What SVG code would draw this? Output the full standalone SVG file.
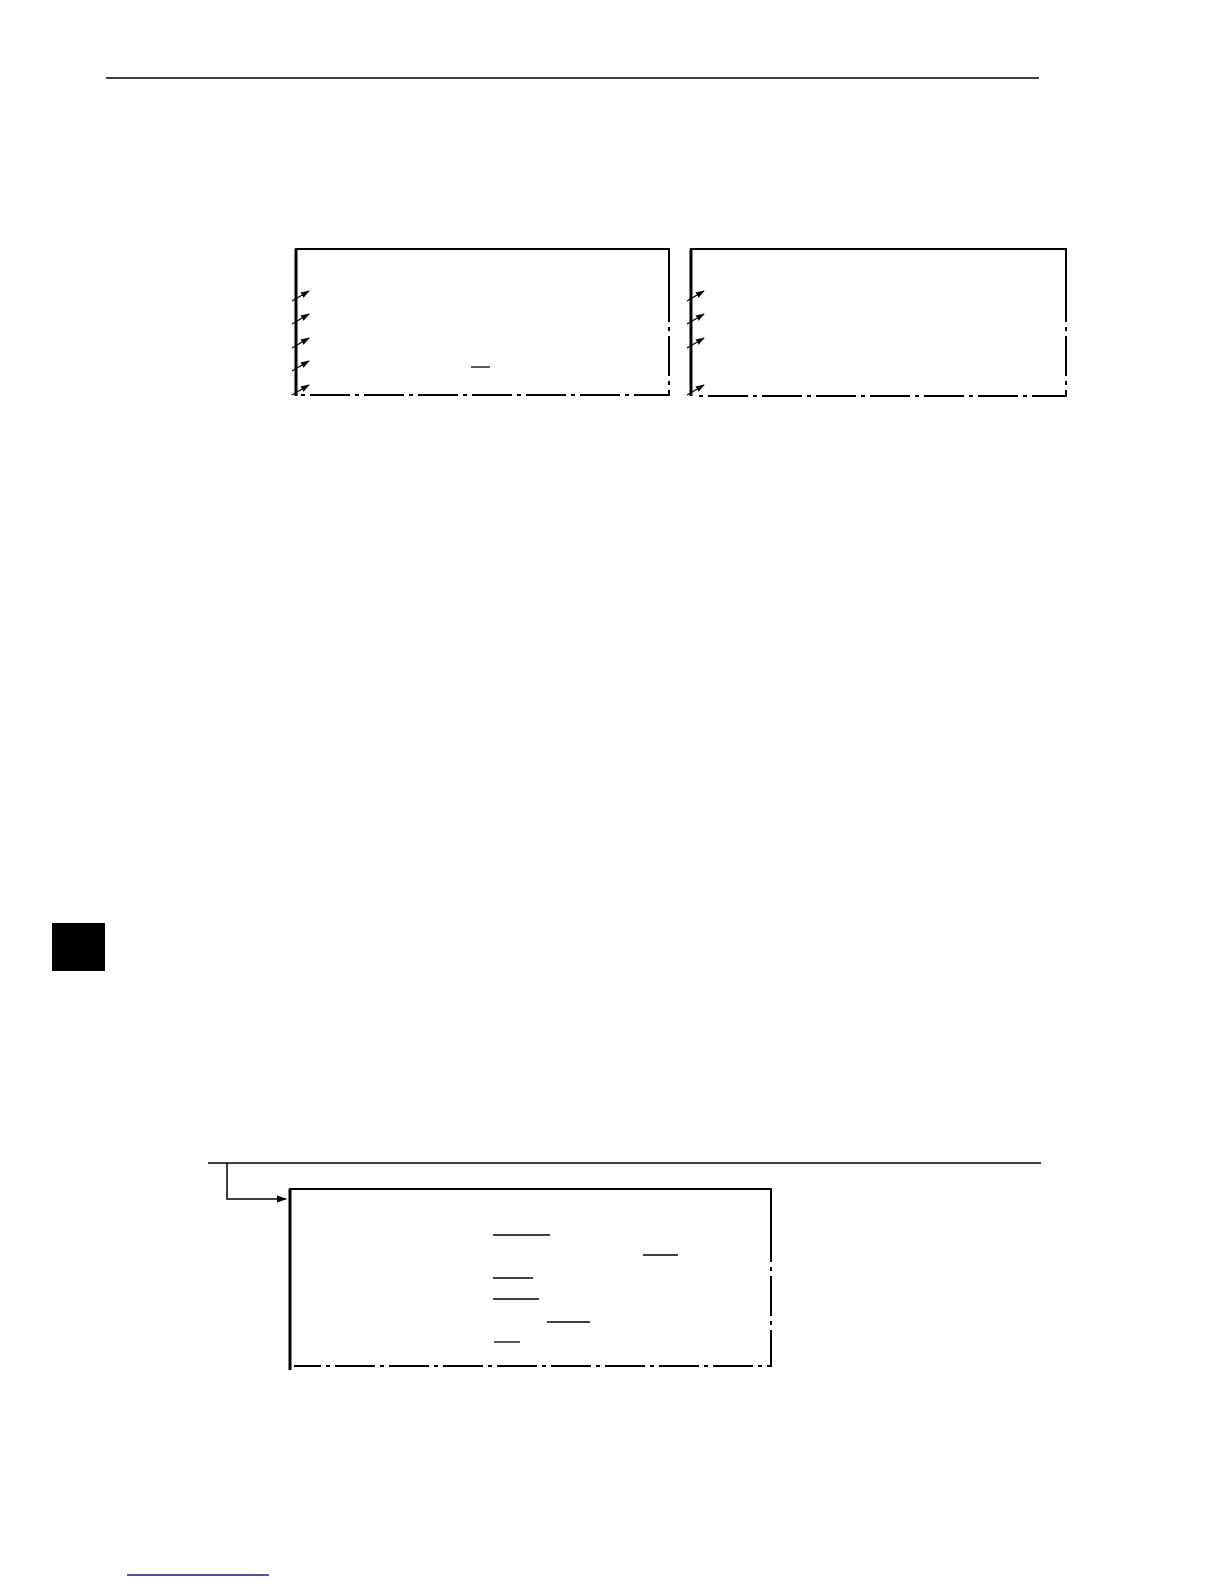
<svg xmlns="http://www.w3.org/2000/svg" width="1224" height="1584" viewBox="0 0 1224 1584">
<style>
.solid{fill:none;stroke:#000;stroke-width:2}
.thick{fill:none;stroke:#000;stroke-width:3}
.dash{fill:none;stroke:#000;stroke-width:2;stroke-dasharray:40 5 4 5}
.thin{fill:none;stroke:#000;stroke-width:1.5}
.ptr{fill:none;stroke:#000;stroke-width:1.3}
</style>
<defs>
<marker id="ah" viewBox="0 0 10 10" refX="9" refY="5" markerWidth="9" markerHeight="9" orient="auto" markerUnits="userSpaceOnUse">
<path d="M0,1.5 L10,5 L0,8.5 Z" fill="#000"/>
</marker>
<marker id="ah2" viewBox="0 0 10 10" refX="9" refY="5" markerWidth="10" markerHeight="10" orient="auto" markerUnits="userSpaceOnUse">
<path d="M0,1.5 L10,5 L0,8.5 Z" fill="#000"/>
</marker>
</defs>
<rect width="1224" height="1584" fill="#fff"/>
<line x1="106" y1="78" x2="1039" y2="78" class="thin"/>
<g id="box1">
<path d="M296,396 V249 H669 V282" class="solid"/>
<line x1="296" y1="249" x2="296" y2="396" class="thick"/>
<path d="M669,282 V395 H300" class="dash"/>
<line x1="471" y1="367" x2="490" y2="367" stroke="#000" stroke-width="1.3"/>
</g>
<g id="box2">
<path d="M691,396 V249 H1066 V282" class="solid"/>
<line x1="691" y1="249" x2="691" y2="396" class="thick"/>
<path d="M1066,282 V396 H696" class="dash"/>
</g>
<g id="box3">
<path d="M290,1370 V1189 H771 V1222" class="solid"/>
<line x1="290" y1="1189" x2="290" y2="1370" class="thick"/>
<path d="M771,1222 V1366 H294" class="dash"/>
<g stroke="#000" stroke-width="1.3">
<line x1="493" y1="1235" x2="550" y2="1235"/>
<line x1="643" y1="1255" x2="678" y2="1255"/>
<line x1="493" y1="1278" x2="533" y2="1278"/>
<line x1="493" y1="1299" x2="539" y2="1299"/>
<line x1="547" y1="1322" x2="590" y2="1322"/>
<line x1="494" y1="1342" x2="520" y2="1342"/>
</g>
</g>
<g id="connectors">
<line x1="292" y1="301" x2="309" y2="291" class="ptr" marker-end="url(#ah)"/>
<line x1="292" y1="324" x2="309" y2="314" class="ptr" marker-end="url(#ah)"/>
<line x1="292" y1="348" x2="309" y2="338" class="ptr" marker-end="url(#ah)"/>
<line x1="292" y1="371" x2="309" y2="361" class="ptr" marker-end="url(#ah)"/>
<line x1="292" y1="395" x2="309" y2="385" class="ptr" marker-end="url(#ah)"/>
<line x1="687" y1="301" x2="704" y2="291" class="ptr" marker-end="url(#ah)"/>
<line x1="687" y1="324" x2="704" y2="314" class="ptr" marker-end="url(#ah)"/>
<line x1="687" y1="348" x2="704" y2="338" class="ptr" marker-end="url(#ah)"/>
<line x1="687" y1="395" x2="704" y2="385" class="ptr" marker-end="url(#ah)"/>
<line x1="208" y1="1163" x2="1041" y2="1163" class="thin"/>
<path d="M227,1163 V1199 H286" class="thin" marker-end="url(#ah2)"/>
</g>
<rect x="52" y="923" width="53" height="48" fill="#000"/>
<line x1="127" y1="1575" x2="269" y2="1575" stroke="#1a1a80" stroke-width="1.5"/>
</svg>
